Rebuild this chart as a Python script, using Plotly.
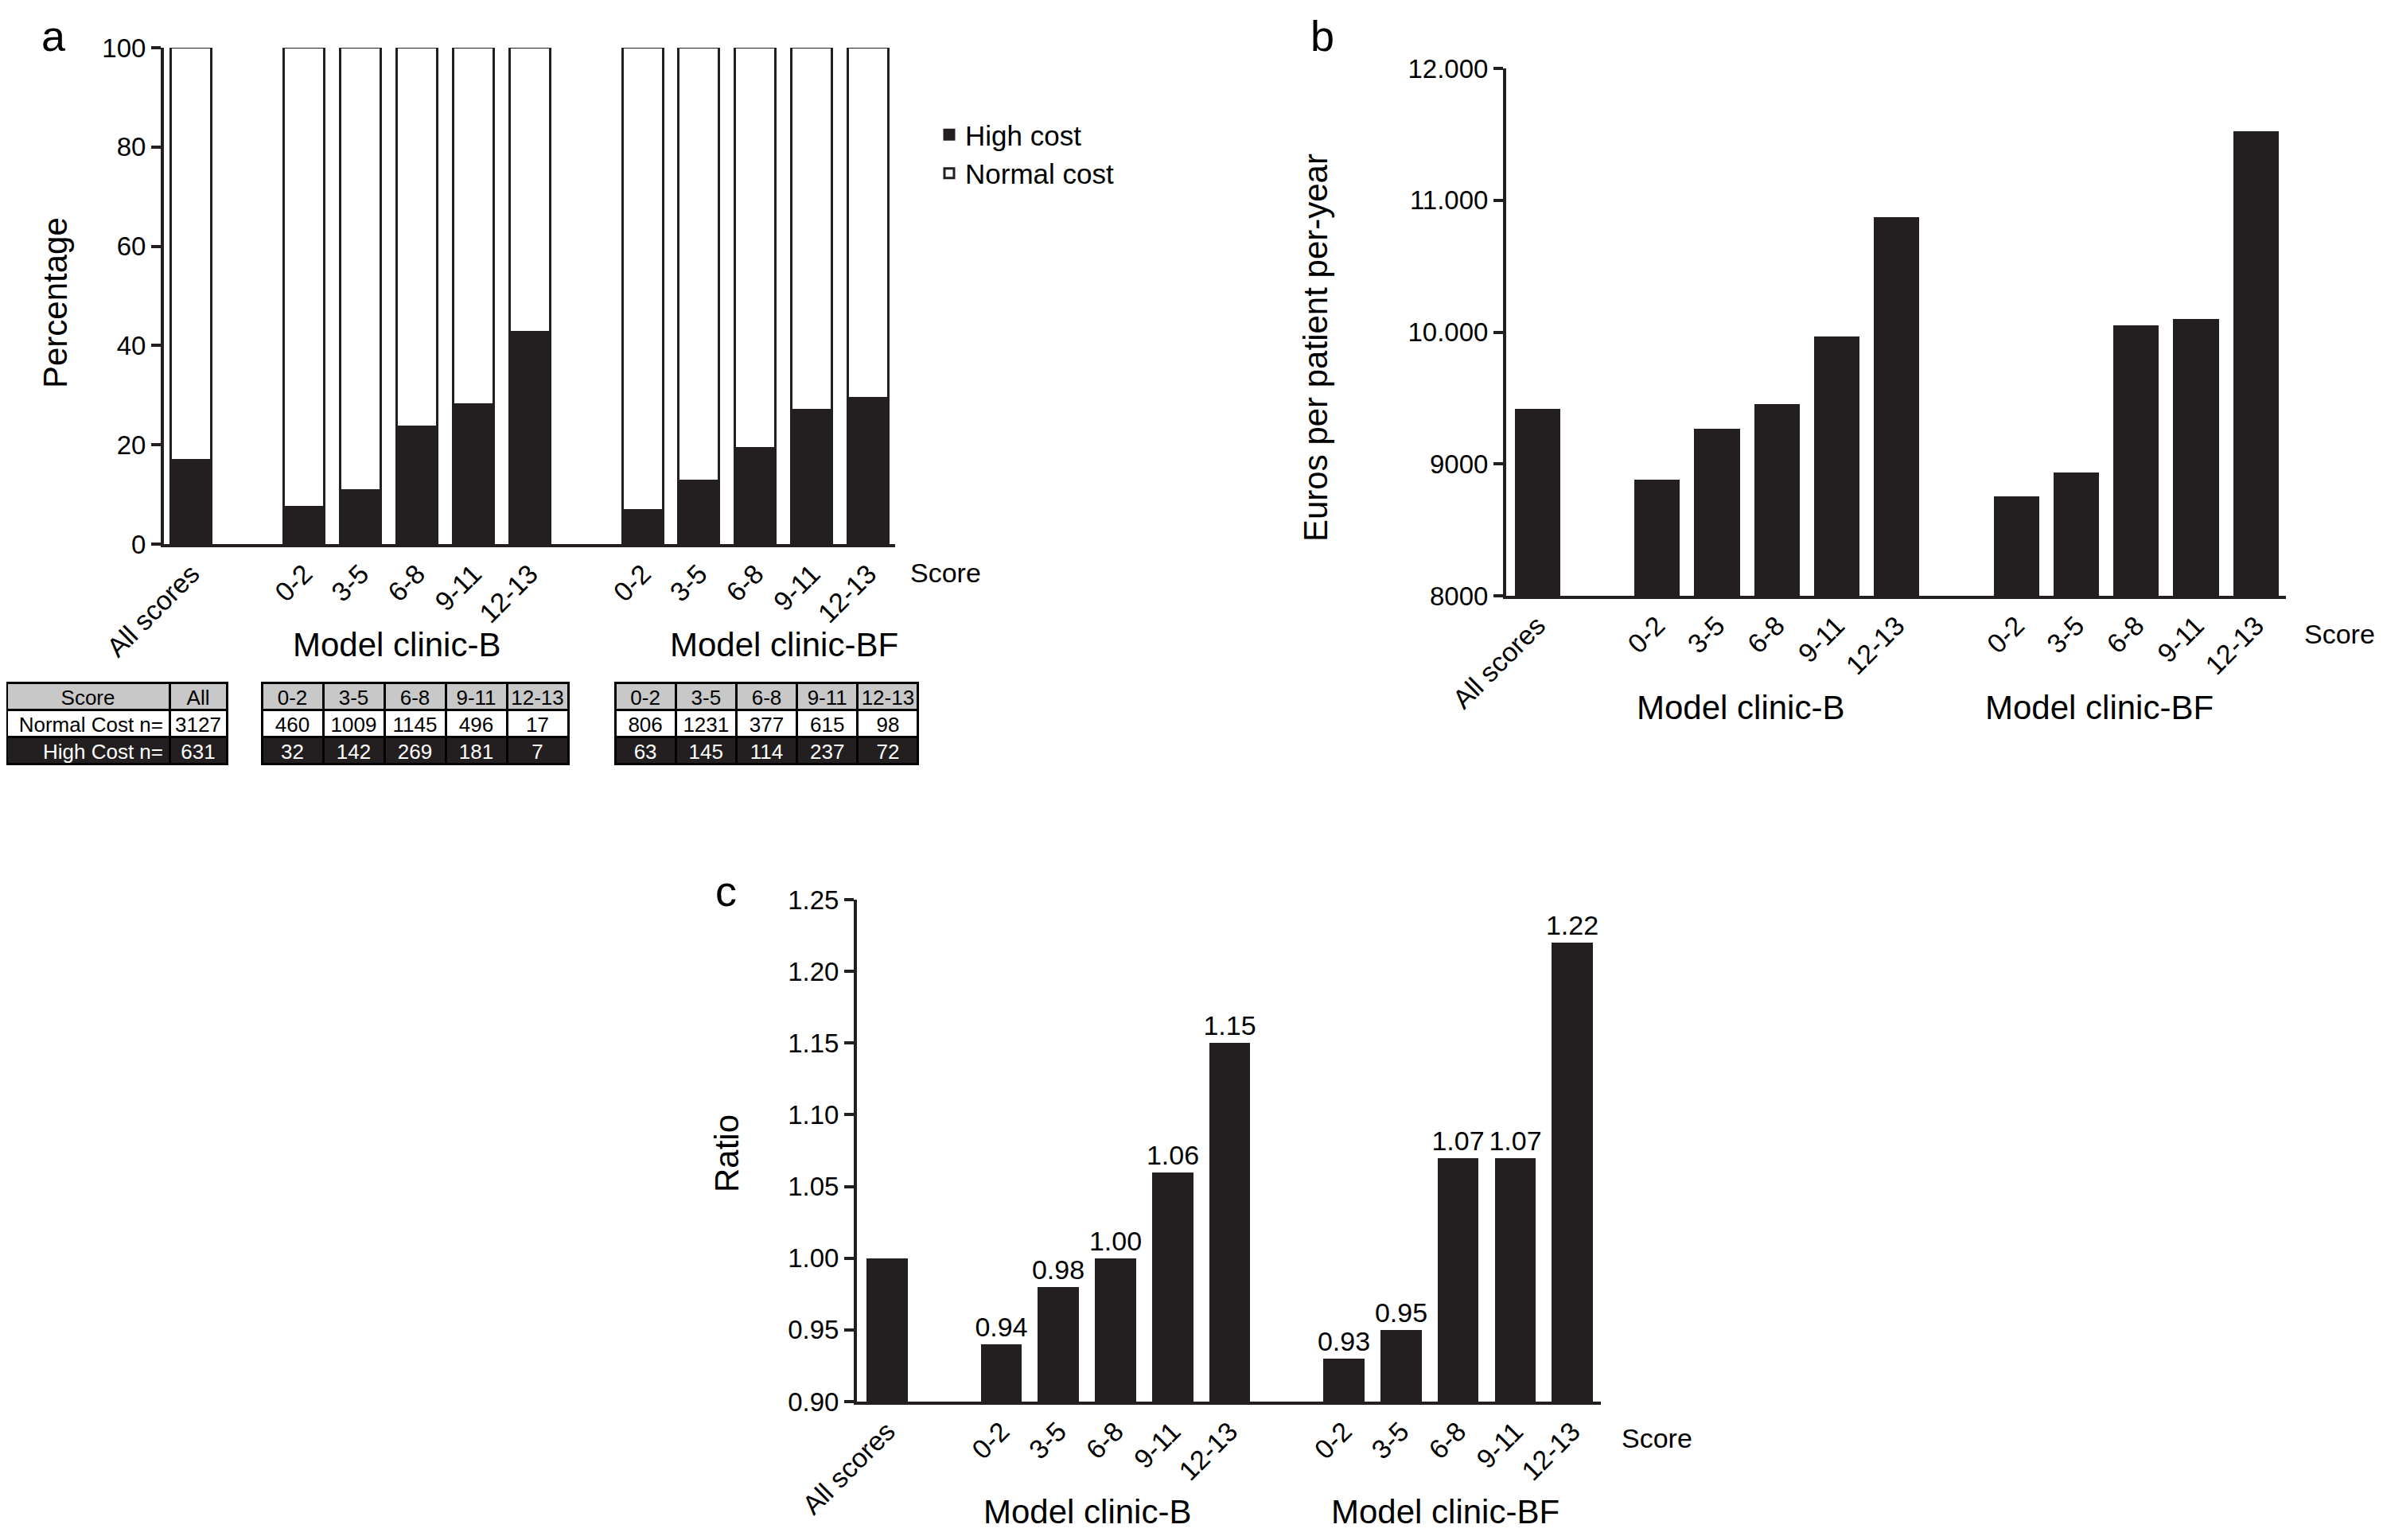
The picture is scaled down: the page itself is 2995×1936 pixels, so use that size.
import plotly.graph_objects as go

# --- data ---
score_labels = ["0-2", "3-5", "6-8", "9-11", "12-13"]
all_label = "All scores"
group_names = ["Model clinic-B", "Model clinic-BF"]

# panel a: % of patients with high cost
high_pct_all = 16.9
high_pct_b = [7.4, 10.7, 23.5, 28.1, 42.6]
high_pct_bf = [6.7, 12.6, 19.2, 27.0, 29.3]
pct_ticks = [0, 20, 40, 60, 80, 100]

# panel a: counts tables
normal_n_all = 3127
high_n_all = 631
normal_n_b = [460, 1009, 1145, 496, 17]
high_n_b = [32, 142, 269, 181, 7]
normal_n_bf = [806, 1231, 377, 615, 98]
high_n_bf = [63, 145, 114, 237, 72]

# panel b: euros per patient per year
euros_all = 9416
euros_b = [8882, 9268, 9453, 9965, 10869]
euros_bf = [8753, 8934, 10050, 10098, 11522]
euro_ticks = [8000, 9000, 10000, 11000, 12000]

# panel c: ratio
ratio_all = 1.00
ratio_b = [0.94, 0.98, 1.00, 1.06, 1.15]
ratio_bf = [0.93, 0.95, 1.07, 1.07, 1.22]
ratio_ticks = [0.90, 0.95, 1.00, 1.05, 1.10, 1.15, 1.20, 1.25]

W, H = 2995, 1936
PAD = 8  # default body margin of the html page
BAR = "#231f20"
FONT = "Liberation Sans, Arial, Helvetica, sans-serif"
NARROW = "Liberation Sans Narrow, Arial Narrow, Liberation Sans, sans-serif"


# page pixel -> paper fraction
def px(x):
    return min(1.0, max(0.0, (x - PAD) / (W - 2 * PAD)))


def py(y):
    return min(1.0, max(0.0, 1 - (y - PAD) / (H - 2 * PAD)))


def bar_positions(n_groups, group_size, gap=1):
    # "All scores" bar first, then each group after an empty slot
    xs = [0]
    start = 1 + gap
    for _ in range(n_groups):
        xs += [start + i for i in range(group_size)]
        start += group_size + gap
    return xs


xpos = bar_positions(len(group_names), len(score_labels))
xlabels = [all_label] + score_labels * len(group_names)

high_pct = [high_pct_all] + high_pct_b + high_pct_bf
normal_pct = [100 - v for v in high_pct]
euros = [euros_all] + euros_b + euros_bf
ratios = [ratio_all] + ratio_b + ratio_bf
ratio_text = [""] + [f"{v:.2f}" for v in ratio_b + ratio_bf]

fig = go.Figure()

# panel a
fig.add_trace(go.Bar(x=xpos, y=high_pct, name="High cost", width=0.72,
                     marker=dict(color=BAR, line=dict(color=BAR, width=3)),
                     legendgroup="h", xaxis="x", yaxis="y"))
fig.add_trace(go.Bar(x=xpos, y=normal_pct, name="Normal cost", width=0.72,
                     marker=dict(color="white", line=dict(color=BAR, width=3)),
                     legendgroup="n", xaxis="x", yaxis="y"))

# panel b
fig.add_trace(go.Bar(x=xpos, y=euros, width=0.76, showlegend=False,
                     marker=dict(color=BAR, line=dict(width=0)),
                     xaxis="x2", yaxis="y2"))

# panel c
fig.add_trace(go.Bar(x=xpos, y=ratios, width=0.72, showlegend=False,
                     marker=dict(color=BAR, line=dict(width=0)),
                     text=ratio_text, textposition="outside", constraintext="none",
                     textfont=dict(size=34, color="black", family=FONT),
                     cliponaxis=False, xaxis="x3", yaxis="y3"))


# tables under panel a
def add_table(x0, x1, header, columns, widths, first_align="center"):
    ncol = len(header)
    fig.add_trace(go.Table(
        domain=dict(x=[px(x0), px(x1)], y=[py(975), py(858)]),
        columnwidth=widths,
        header=dict(values=header, height=34, fill_color="#c8c8c8",
                    line=dict(color="black", width=3), align="center",
                    font=dict(family=NARROW, size=26, color="black")),
        cells=dict(values=columns, height=34,
                   fill=dict(color=[["white", BAR]] * ncol),
                   line=dict(color="black", width=3),
                   align=[first_align] + ["center"] * (ncol - 1),
                   font=dict(family=NARROW, size=26,
                             color=[["black", "white"]] * ncol)),
    ))


add_table(0, 285, ["Score", "All"],
          [["Normal Cost n=", "High Cost n="], [normal_n_all, high_n_all]],
          [205, 72], first_align="right")
add_table(329, 714, score_labels,
          [list(p) for p in zip(normal_n_b, high_n_b)], [1] * 5)
add_table(773, 1155, score_labels,
          [list(p) for p in zip(normal_n_bf, high_n_bf)], [1] * 5)

yax = dict(showline=True, linecolor=BAR, linewidth=4, ticks="outside",
           ticklen=12, tickwidth=4, tickcolor=BAR, showgrid=False,
           zeroline=False, automargin=False,
           tickfont=dict(size=33, family=FONT, color="black"))
xax = dict(showline=True, linecolor=BAR, linewidth=4, ticks="", showgrid=False,
           zeroline=False, automargin=False, tickmode="array", tickvals=xpos,
           ticktext=xlabels, tickangle=-45,
           tickfont=dict(size=34, family=FONT, color="black"))

euro_text = [f"{v:,}".replace(",", ".") if v >= 10000 else str(v) for v in euro_ticks]

fig.update_layout(
    template="none",
    width=W - 2 * PAD, height=H - 2 * PAD, margin=dict(l=0, r=0, t=0, b=0, pad=0),
    paper_bgcolor="white", plot_bgcolor="white",
    barmode="stack", bargap=0,
    font=dict(family=FONT, color="black"),
    xaxis=dict(xax, domain=[px(206), px(1125)], range=[-0.49, 12.47], anchor="y"),
    yaxis=dict(yax, domain=[py(684), py(60)], range=[0, 100], tickvals=pct_ticks, anchor="x"),
    xaxis2=dict(xax, domain=[px(1893), px(2873)], range=[-0.52, 12.5], anchor="y2"),
    yaxis2=dict(yax, domain=[py(749), py(86)], range=[8000, 12000],
                tickvals=euro_ticks, ticktext=euro_text, anchor="x2"),
    xaxis3=dict(xax, domain=[px(1077), px(2012)], range=[-0.53, 12.5], anchor="y3"),
    yaxis3=dict(yax, domain=[py(1762), py(1131)], range=[0.90, 1.25],
                tickvals=ratio_ticks, tickformat=".2f", anchor="x3"),
    legend=dict(x=px(1173), y=py(140), xanchor="left", yanchor="top",
                traceorder="normal", tracegroupgap=10, bgcolor="rgba(0,0,0,0)",
                font=dict(size=35, family=FONT, color="black")),
)

notes = [
    # text, x, y, size, angle, anchor
    ("a", 67, 45, 54, 0, "center"),
    ("Percentage", 69, 381, 42, -90, "center"),
    ("Score", 1142, 720, 34, 0, "left"),
    (group_names[0], 498, 810, 42, 0, "center"),
    (group_names[1], 985, 810, 42, 0, "center"),
    ("b", 1662, 45, 54, 0, "center"),
    ("Euros per patient per-year", 1654, 437, 42, -90, "center"),
    ("Score", 2894, 797, 34, 0, "left"),
    (group_names[0], 2187, 889, 42, 0, "center"),
    (group_names[1], 2638, 889, 42, 0, "center"),
    ("c", 913, 1120, 54, 0, "center"),
    ("Ratio", 913, 1450, 42, -90, "center"),
    ("Score", 2036, 1808, 34, 0, "left"),
    (group_names[0], 1366, 1900, 42, 0, "center"),
    (group_names[1], 1816, 1900, 42, 0, "center"),
]
for text, x, y, size, ang, anchor in notes:
    fig.add_annotation(text=text, x=px(x), y=py(y), xref="paper", yref="paper",
                       xanchor=anchor, yanchor="middle", showarrow=False,
                       textangle=ang, font=dict(size=size, family=FONT, color="black"))

fig.write_html("out.html")
